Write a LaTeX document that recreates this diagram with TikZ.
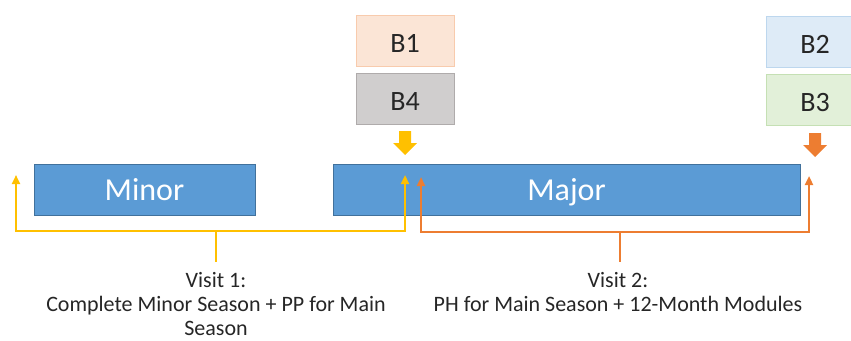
\documentclass[tikz,border=0pt]{standalone}
\usepackage{fontspec}
\setmainfont{Carlito}
\usepackage{tikz}
\usetikzlibrary{arrows.meta}
\definecolor{seasonblue}{HTML}{5B9BD5}
\definecolor{seasonedge}{HTML}{41719C}
\definecolor{visityellow}{HTML}{FFC000}
\definecolor{visitorange}{HTML}{ED7D31}
\definecolor{bonefill}{HTML}{FBE5D6}
\definecolor{boneedge}{HTML}{F8CBAD}
\definecolor{btwofill}{HTML}{DEEBF7}
\definecolor{btwoedge}{HTML}{BDD7EE}
\definecolor{bthreefill}{HTML}{E2F0D9}
\definecolor{bthreeedge}{HTML}{C5E0B4}
\definecolor{bfourfill}{HTML}{D0CECE}
\definecolor{bfouredge}{HTML}{AFABAB}

\newcommand{\downblock}[3]{%
  \fill[#3] ({#1-6},#2) -- ({#1+6},#2) -- ({#1+6},{#2+12}) -- ({#1+12},{#2+12})
    -- (#1,{#2+24}) -- ({#1-12},{#2+12}) -- ({#1-6},{#2+12}) -- cycle;}

\begin{document}
\begin{tikzpicture}[x=1pt,y=-1pt,>={Triangle[width=8pt,length=9pt]},line join=miter,
  season/.style={draw=seasonedge,fill=seasonblue,line width=1pt,minimum height=51pt,
    inner sep=0pt,text=white,text height=28.8pt,text depth=7.8pt,
    font=\fontsize{32}{36}\selectfont},
  bbox/.style={line width=1pt,minimum width=98pt,minimum height=51pt,inner sep=0pt,
    text height=28pt,text depth=5pt,text=black!85,font=\fontsize{28}{32}\selectfont},
  visit/.style={line width=2.2pt},
  visittext/.style={align=center,anchor=north,inner sep=0pt,text=black!85,
    font=\fontsize{22}{24}\selectfont}]
\useasboundingbox (0,0) rectangle (851,340);
\clip (0,0) rectangle (851,340);
%%
  % Nodes: seasons
  \node[season,minimum width=221pt] (minor) at (144.5,189.5) {Minor};
  \node[season,minimum width=467pt] (major) at (566.5,189.5) {Major};
  % Nodes: boxes
  \node[bbox,draw=boneedge,fill=bonefill] (b1) at (405,40.5) {B1};
  \node[bbox,draw=bfouredge,fill=bfourfill] (b4) at (405,98.5) {B4};
  \node[bbox,draw=btwoedge,fill=btwofill] (b2) at (815,42) {B2};
  \node[bbox,draw=bthreeedge,fill=bthreefill] (b3) at (815,100) {B3};
  % Block arrows
  \downblock{405}{131}{visityellow}
  \downblock{815}{133}{visitorange}
  % Edge: visit 1
  \coordinate (y1l) at (16,175);
  \coordinate (y1r) at (405,175);
  \coordinate (y1m) at (216,231);
  \coordinate (y1s) at (216,262);
  \draw[visit,visityellow,<->] (y1l) |- (y1m) -| (y1r);
  \draw[visit,visityellow] (y1m) -- (y1s);
  % Edge: visit 2
  \coordinate (y2l) at (421,177);
  \coordinate (y2r) at (809,176);
  \coordinate (y2m) at (620,232);
  \coordinate (y2s) at (620,262);
  \draw[visit,visitorange,<->] (y2l) |- (y2m) -| (y2r);
  \draw[visit,visitorange] (y2m) -- (y2s);
  % Labels
  \node[visittext] (v1) at (216,272) {Visit 1:\\Complete Minor Season + PP for Main\\Season};
  \node[visittext] (v2) at (618,272) {Visit 2:\\PH for Main Season + 12-Month Modules};
%
\end{tikzpicture}
\end{document}
